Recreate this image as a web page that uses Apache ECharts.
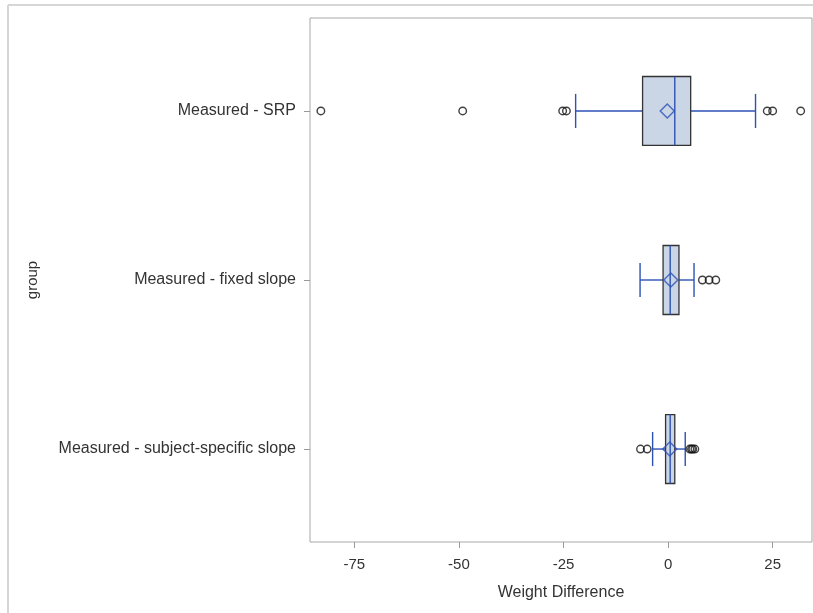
<!DOCTYPE html>
<html>
<head>
<meta charset="utf-8">
<script src="https://cdn.jsdelivr.net/npm/echarts@6/dist/echarts.min.js"></script>
<style>
html,body{margin:0;padding:0;background:#fff;}
#chart{width:813px;height:613px;}
</style>
</head>
<body>
<div id="chart"></div>
<script>
// Data
const groups = ['Measured - SRP', 'Measured - fixed slope', 'Measured - subject-specific slope'];
// five-number summaries: [whiskerLow, Q1, median, Q3, whiskerHigh]
const boxSRP   = [-22.1, -6.1, 1.6, 5.4, 20.9];
const boxFixed = [-6.7, -1.2, 0.5, 2.6, 6.2];
const boxSubj  = [-3.7, -0.6, 0.5, 1.6, 4.1];
const meanValues = [-0.2, 0.65, 0.4];
const outSRP   = [-83.0, -49.1, -25.2, -24.3, 23.7, 25.0, 31.7];
const outFixed = [8.2, 9.8, 11.4];
const outSubj  = [-6.6, -5.0, 5.2, 5.6, 5.9, 6.4];
const xTicks = [-75, -50, -25, 0, 25];

const boxes = [boxSRP, boxFixed, boxSubj];
const outliers = [outSRP, outFixed, outSubj];

const boxData = boxes.map((b, i) => [i].concat(b));
const meanData = meanValues.map((m, i) => [m, i]);
const outData = [];
outliers.forEach((arr, i) => arr.forEach(v => outData.push([v, i])));

const BLUE = '#2d52b4';
const FILL = '#cad5e6';
const FRAME = '#a8a8a8';
const FONT = '"Liberation Sans", Arial, sans-serif';

const chart = echarts.init(document.getElementById('chart'), null, {renderer: 'canvas'});

function renderBox(params, api) {
  const y = api.value(0);
  const lo = api.value(1), q1 = api.value(2), md = api.value(3), q3 = api.value(4), hi = api.value(5);
  const unit = api.size([0, 1])[1];
  const hb = unit * 0.204;   // half box height
  const hc = unit * 0.101;   // half cap height
  const pLo = api.coord([lo, y]), pQ1 = api.coord([q1, y]), pMd = api.coord([md, y]),
        pQ3 = api.coord([q3, y]), pHi = api.coord([hi, y]);
  const cy = pLo[1];
  const lineStyle = {stroke: BLUE, lineWidth: 1.4, fill: null};
  return {
    type: 'group',
    children: [
      {type: 'line', shape: {x1: pLo[0], y1: cy, x2: pQ1[0], y2: cy}, style: lineStyle},
      {type: 'line', shape: {x1: pQ3[0], y1: cy, x2: pHi[0], y2: cy}, style: lineStyle},
      {type: 'line', shape: {x1: pLo[0], y1: cy - hc, x2: pLo[0], y2: cy + hc}, style: lineStyle},
      {type: 'line', shape: {x1: pHi[0], y1: cy - hc, x2: pHi[0], y2: cy + hc}, style: lineStyle},
      {type: 'rect', shape: {x: pQ1[0], y: cy - hb, width: pQ3[0] - pQ1[0], height: 2 * hb},
        style: {fill: FILL, stroke: '#333333', lineWidth: 1.3}},
      {type: 'line', shape: {x1: pMd[0], y1: cy - hb, x2: pMd[0], y2: cy + hb}, style: lineStyle}
    ]
  };
}

const option = {
  backgroundColor: '#ffffff',
  animation: false,
  graphic: [
    {type: 'line', shape: {x1: 8, y1: 5, x2: 813, y2: 5}, style: {stroke: '#d6d6d6', lineWidth: 2}},
    {type: 'line', shape: {x1: 8, y1: 5, x2: 8, y2: 613}, style: {stroke: '#d6d6d6', lineWidth: 2}}
  ],
  grid: {
    left: 310, top: 18, width: 502, height: 524,
    show: true, borderColor: FRAME, borderWidth: 1, backgroundColor: 'transparent'
  },
  xAxis: {
    type: 'value',
    min: -85.6, max: 34.4,
    name: 'Weight Difference',
    nameLocation: 'middle',
    nameGap: 43,
    nameTextStyle: {fontFamily: FONT, fontSize: 16, color: '#333333'},
    axisLine: {show: false, onZero: false},
    splitLine: {show: false},
    axisTick: {show: true, length: 6, lineStyle: {color: '#999999'}, customValues: xTicks},
    axisLabel: {customValues: xTicks, margin: 15, fontFamily: FONT, fontSize: 15, color: '#333333'}
  },
  yAxis: {
    type: 'value',
    min: -0.55, max: 2.55,
    inverse: true,
    name: 'group',
    nameLocation: 'middle',
    nameGap: 270,
    nameRotate: 90,
    nameTextStyle: {fontFamily: FONT, fontSize: 15, color: '#333333'},
    axisLine: {show: false, onZero: false},
    splitLine: {show: false},
    axisTick: {show: true, length: 6, lineStyle: {color: '#999999'}, customValues: [0, 1, 2]},
    axisLabel: {
      customValues: [0, 1, 2],
      margin: 14,
      fontFamily: FONT, fontSize: 16, color: '#333333',
      formatter: v => groups[Math.round(v)]
    }
  },
  series: [
    {
      type: 'custom',
      name: 'box',
      renderItem: renderBox,
      encode: {x: [1, 2, 3, 4, 5], y: 0},
      data: boxData,
      z: 2
    },
    {
      type: 'scatter',
      name: 'mean',
      symbol: 'diamond',
      symbolSize: [14, 14],
      itemStyle: {color: 'transparent', borderColor: BLUE, borderWidth: 1.5},
      data: meanData,
      z: 4
    },
    {
      type: 'scatter',
      name: 'outliers',
      symbol: 'circle',
      symbolSize: 7.5,
      itemStyle: {color: 'transparent', borderColor: '#111111', borderWidth: 1.4},
      data: outData,
      z: 3
    }
  ]
};
chart.setOption(option);
</script>
</body>
</html>
